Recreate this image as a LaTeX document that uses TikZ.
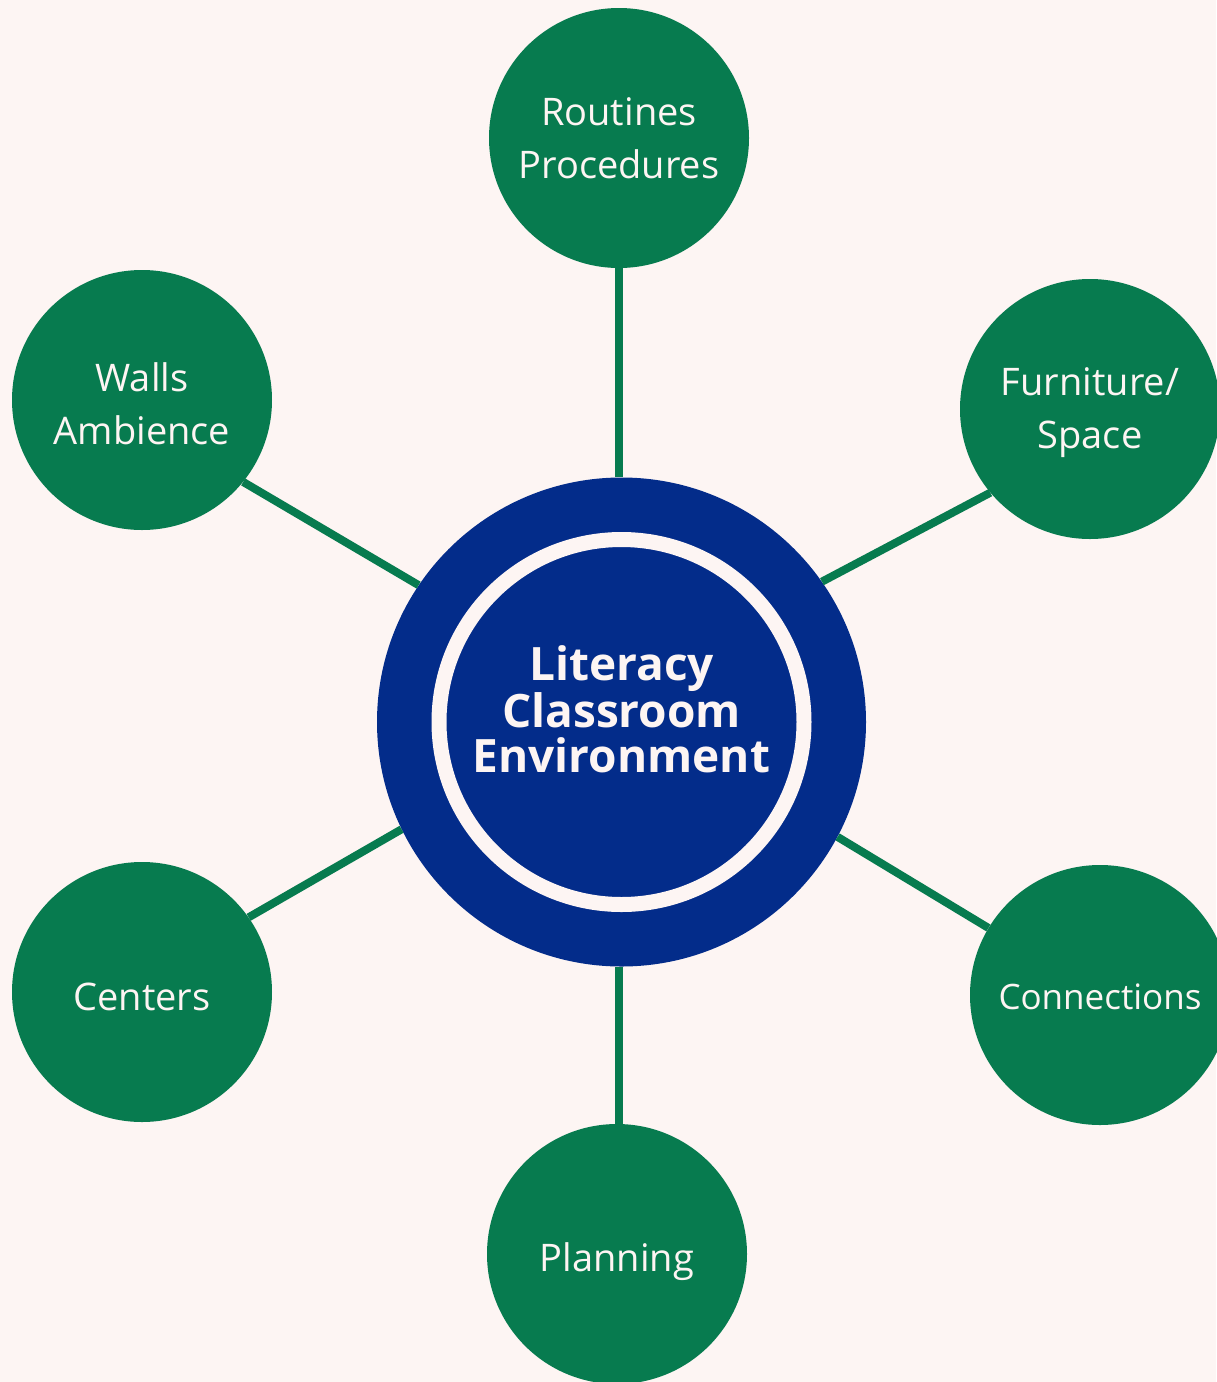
\documentclass[tikz,border=0pt]{standalone}
\usepackage{fontspec}
\setmainfont{Open Sans}
\definecolor{bgcol}{RGB}{253,245,243}
\definecolor{grn}{RGB}{7,123,79}
\definecolor{blu}{RGB}{3,44,138}
\newcommand{\lift}[1]{\rule{0pt}{#1pt}}
\begin{document}
\begin{tikzpicture}[x=1pt,y=-1pt,
  topic/.style={circle,fill=grn,minimum size=260pt,inner sep=0pt,text=bgcol,align=center,
    font=\fontsize{38}{53}\selectfont},
  hub/.style={circle,fill=blu,minimum size=489pt,inner sep=0pt},
  link/.style={draw=grn,line width=8pt}]
\useasboundingbox (0,0) rectangle (1216,1382);
\fill[bgcol] (0,0) rectangle (1216,1382);
% nodes
\node[hub] (c) at (621.5,722) {};
\node[topic] (routines) at (619,138) {Routines\\Procedures};
\node[topic] (walls) at (142,400) {\lift{37}Walls\\Ambience};
\node[topic] (furn) at (1090,409) {\lift{35}Furniture/\\Space};
\node[topic] (centers) at (142,992) {\lift{38}Centers};
\node[topic,font=\fontsize{35}{48}\selectfont] (conn) at (1100,995) {\lift{30}Connections};
\node[topic] (plan) at (617,1254) {\lift{45}Planning};
% connectors
\path[link] (routines.south) -- (routines.south |- c.north);
\path[link] (c.146) -- (walls.-39);
\path[link] (c.35) -- (furn.220);
\path[link] (c.206) -- (centers.35);
\path[link] (c.-28) -- (conn.149);
\path[link] (routines.south |- c.south) -- (routines.south |- plan.north);
% ring
\draw[bgcol,line width=15pt] (c.center) circle (182.5);
\node[text=bgcol,align=center,font=\bfseries\fontsize{46}{45}\selectfont] (title) at (621.5,709)
  {Literacy\\Classroom\\Environment};
\end{tikzpicture}
\end{document}
